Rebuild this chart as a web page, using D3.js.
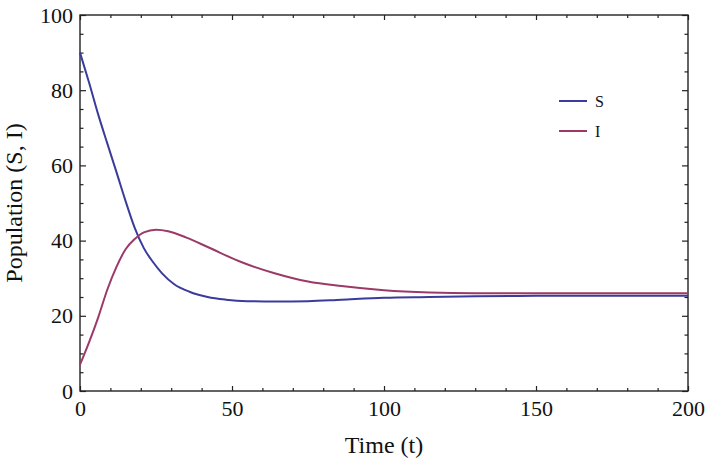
<!DOCTYPE html>
<html>
<head>
<meta charset="utf-8">
<script src="https://cdn.jsdelivr.net/npm/d3@7/dist/d3.min.js"></script>
<style>
  html, body { margin: 0; padding: 0; background: #fff; }
  svg { display: block; }
</style>
</head>
<body>
<svg id="chart" width="710" height="461"></svg>
<script>
// ---- data ----
const timeS = [0, 3, 6, 9, 12, 15, 18, 21, 24, 27, 31, 36, 42, 48, 55, 64, 75, 86, 100, 115, 130, 150, 175, 200];
const susceptible = [90, 82, 73.5, 65.8, 58.2, 50.5, 43.4, 38, 34.3, 31.3, 28.4, 26.4, 25, 24.3, 23.9, 23.8, 23.9, 24.3, 24.8, 25.0, 25.2, 25.3, 25.3, 25.3];
const timeI = [0, 3, 6, 9, 12, 15, 18, 21, 25, 29, 35, 42, 53, 64, 75, 86, 100, 115, 130, 150, 175, 200];
const infected = [7, 13, 19.6, 27, 33, 37.7, 40.4, 42.2, 42.9, 42.5, 40.8, 38.3, 34.3, 31.3, 29.1, 27.9, 26.8, 26.2, 26.0, 26.0, 26.0, 26.0];
const seriesNames = ["S", "I"];
const seriesColors = ["#3b3b9c", "#9b3a68"];
const xMajor = [0, 50, 100, 150, 200];
const yMajor = [0, 20, 40, 60, 80, 100];
const xTitle = "Time (t)";
const yTitle = "Population (S, I)";

const svg = d3.select("#chart");
const W = 710, H = 461;
const m = { left: 80, right: 22, top: 15, bottom: 70 };
const x = d3.scaleLinear().domain([0, 200]).range([m.left, W - m.right]);
const y = d3.scaleLinear().domain([0, 100]).range([H - m.bottom, m.top]);

const xMinor = d3.range(0, 201, 10).filter(v => !xMajor.includes(v));
const yMinor = d3.range(0, 101, 5).filter(v => !yMajor.includes(v));

const font = "'Liberation Serif', 'Times New Roman', serif";

function styleAxis(g) {
  g.select(".domain").remove();
  g.selectAll("line").attr("stroke", "#222").attr("stroke-width", 1.2);
  g.selectAll("text").attr("font-family", font).attr("font-size", 22).attr("fill", "#111");
}

// bottom
svg.append("g").attr("transform", `translate(0,${y(0)})`)
  .call(d3.axisBottom(x).tickValues(xMajor).tickSize(-5).tickPadding(9).tickFormat(d3.format("d")))
  .call(styleAxis);
svg.append("g").attr("transform", `translate(0,${y(0)})`)
  .call(d3.axisBottom(x).tickValues(xMinor).tickSize(-3).tickFormat(""))
  .call(styleAxis);
// top
svg.append("g").attr("transform", `translate(0,${y(100)})`)
  .call(d3.axisTop(x).tickValues(xMajor).tickSize(-5).tickFormat(""))
  .call(styleAxis);
svg.append("g").attr("transform", `translate(0,${y(100)})`)
  .call(d3.axisTop(x).tickValues(xMinor).tickSize(-3).tickFormat(""))
  .call(styleAxis);
// left
svg.append("g").attr("transform", `translate(${x(0)},0)`)
  .call(d3.axisLeft(y).tickValues(yMajor).tickSize(-6).tickPadding(7).tickFormat(d3.format("d")))
  .call(styleAxis);
svg.append("g").attr("transform", `translate(${x(0)},0)`)
  .call(d3.axisLeft(y).tickValues(yMinor).tickSize(-3.5).tickFormat(""))
  .call(styleAxis);
// right
svg.append("g").attr("transform", `translate(${x(200)},0)`)
  .call(d3.axisRight(y).tickValues(yMajor).tickSize(-6).tickFormat(""))
  .call(styleAxis);
svg.append("g").attr("transform", `translate(${x(200)},0)`)
  .call(d3.axisRight(y).tickValues(yMinor).tickSize(-3.5).tickFormat(""))
  .call(styleAxis);

// frame
svg.append("rect")
  .attr("x", x(0)).attr("y", y(100))
  .attr("width", x(200) - x(0)).attr("height", y(0) - y(100))
  .attr("fill", "none").attr("stroke", "#222").attr("stroke-width", 1.4);

// lines
const line = d3.line().curve(d3.curveMonotoneX);
[[timeS, susceptible], [timeI, infected]].forEach(([ts, vals], i) => {
  svg.append("path")
    .attr("d", line(ts.map((t, k) => [x(t), y(vals[k])])))
    .attr("fill", "none")
    .attr("stroke", seriesColors[i])
    .attr("stroke-width", 2);
});

// legend
const legendY = [101, 131];
seriesNames.forEach((name, i) => {
  svg.append("line")
    .attr("x1", 559).attr("x2", 587)
    .attr("y1", legendY[i]).attr("y2", legendY[i])
    .attr("stroke", seriesColors[i]).attr("stroke-width", 2);
  svg.append("text")
    .attr("x", 595).attr("y", legendY[i]).attr("dy", "0.35em")
    .attr("font-family", font).attr("font-size", 16).attr("fill", "#111")
    .text(name);
});

// titles
svg.append("text")
  .attr("x", (x(0) + x(200)) / 2).attr("y", 453)
  .attr("text-anchor", "middle")
  .attr("font-family", font).attr("font-size", 24).attr("fill", "#111")
  .text(xTitle);
svg.append("text")
  .attr("transform", `translate(22,${(y(0) + y(100)) / 2}) rotate(-90)`)
  .attr("text-anchor", "middle")
  .attr("font-family", font).attr("font-size", 24).attr("fill", "#111")
  .text(yTitle);
</script>
</body>
</html>
